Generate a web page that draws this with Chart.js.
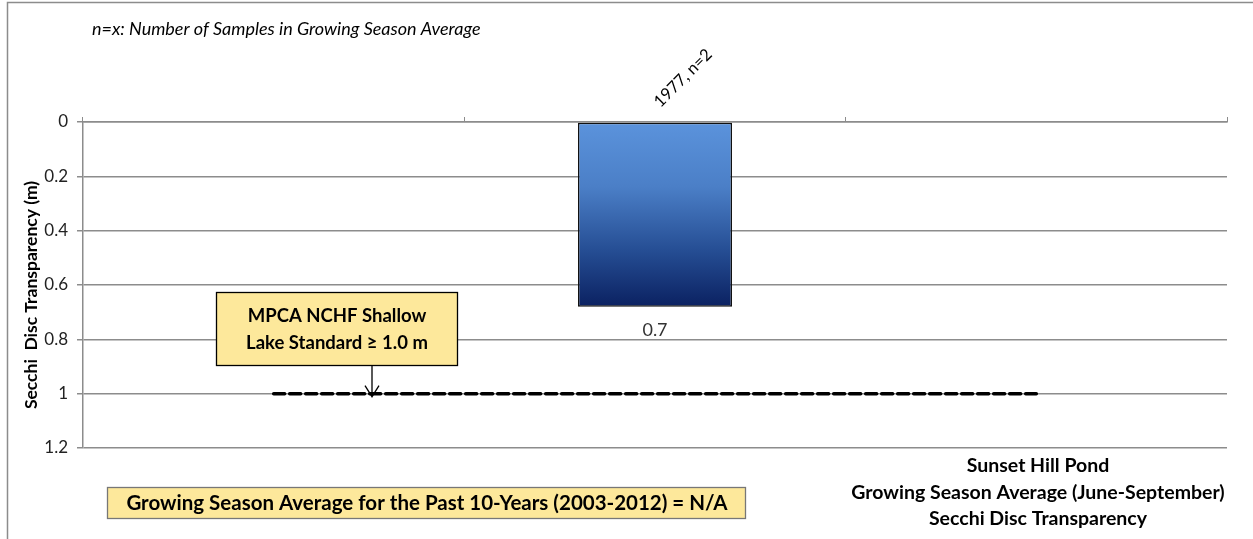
<!DOCTYPE html>
<html>
<head>
<meta charset="utf-8">
<script src="https://cdn.jsdelivr.net/npm/chart.js@4"></script>
<style>
  html, body { margin: 0; padding: 0; background: #fff; }
  #wrap { width: 1253px; height: 539px; position: relative; }
</style>
</head>
<body>
<div id="wrap"><canvas id="secchiChart" width="1253" height="539"></canvas></div>
<script>
// categories (only the middle one has data)
const years = ['', '1977', ''];
const sampleCounts = [null, 2, null];
const secchiValues = [null, 0.68, null];
const standardLine = [1.0, 1.0, 1.0];
const yTicks = [0, 0.2, 0.4, 0.6, 0.8, 1, 1.2];

const noteText = 'n=x: Number of Samples in Growing Season Average';
const standardText = ['MPCA NCHF Shallow', 'Lake Standard \u2265 1.0 m'];
const tenYearText = 'Growing Season Average for the Past 10-Years (2003-2012) = N/A';
const titleLines = ['Sunset Hill Pond', 'Growing Season Average (June-September)', 'Secchi Disc Transparency'];
const yTitle = 'Secchi  Disc Transparency (m)';

const FONT = 'Lato, "Open Sans", sans-serif';

function barGradient(context) {
    const chart = context.chart;
    const y = chart.scales.y;
    if (!y || !chart.chartArea) return '#4a7fc8';
    const v = context.raw;
    const top = y.getPixelForValue(0);
    const bot = y.getPixelForValue(v || 1);
    const g = chart.ctx.createLinearGradient(0, top, 0, bot);
    g.addColorStop(0, '#5b93dc');
    g.addColorStop(0.35, '#4b7fc7');
    g.addColorStop(0.7, '#254d93');
    g.addColorStop(1, '#0b2161');
    return g;
}

// draws text boxes, labels and the frame
const extrasPlugin = {
    id: 'extras',
    afterDatasetsDraw(chart) {
        const ctx = chart.ctx;
        const meta = chart.getDatasetMeta(0);
        ctx.save();

        // labels on the bar
        meta.data.forEach((bar, i) => {
            if (secchiValues[i] == null) return;
            ctx.fillStyle = '#333';
            ctx.font = '18px ' + FONT;
            ctx.textAlign = 'center';
            ctx.textBaseline = 'middle';
            ctx.fillText(secchiValues[i].toFixed(1), bar.x, bar.y + 23);

            ctx.save();
            ctx.translate(bar.x + 28, 78);
            ctx.rotate(-Math.PI / 4);
            ctx.fillStyle = '#000';
            ctx.font = '16.5px ' + FONT;
            ctx.fillText(years[i] + ', n=' + sampleCounts[i], 0, 0);
            ctx.restore();
        });

        // note
        ctx.fillStyle = '#000';
        ctx.font = 'italic 18px ' + FONT;
        ctx.textAlign = 'left';
        ctx.textBaseline = 'middle';
        ctx.fillText(noteText, 92, 29);

        // y title
        ctx.save();
        ctx.translate(31, 295);
        ctx.rotate(-Math.PI / 2);
        ctx.font = 'bold 17.5px ' + FONT;
        ctx.textAlign = 'center';
        ctx.fillText(yTitle, 0, 0);
        ctx.restore();

        // standard box + arrow
        ctx.fillStyle = '#fde89b';
        ctx.fillRect(216, 292, 241, 73);
        ctx.strokeStyle = '#000';
        ctx.lineWidth = 1.3;
        ctx.strokeRect(216.5, 292.5, 241, 73);
        ctx.fillStyle = '#000';
        ctx.font = 'bold 18.5px ' + FONT;
        ctx.textAlign = 'center';
        ctx.fillText(standardText[0], 337, 316);
        ctx.fillText(standardText[1], 337, 343);

        const ax = 372;
        const ay = chart.scales.y.getPixelForValue(1) + 3;
        ctx.beginPath();
        ctx.moveTo(ax, 366);
        ctx.lineTo(ax, ay);
        ctx.moveTo(ax - 7, ay - 11);
        ctx.lineTo(ax, ay);
        ctx.lineTo(ax + 7, ay - 11);
        ctx.stroke();

        // 10-year box
        ctx.fillStyle = '#fde89b';
        ctx.fillRect(107, 487, 638, 31);
        ctx.strokeStyle = '#777';
        ctx.strokeRect(107.5, 487.5, 638, 31);
        ctx.fillStyle = '#000';
        ctx.font = 'bold 20.5px ' + FONT;
        ctx.fillText(tenYearText, 427, 503);

        // title lines
        ctx.font = 'bold 19.5px ' + FONT;
        titleLines.forEach((t, i) => ctx.fillText(t, 1038, 466 + i * 26.5));

        // outer frame
        ctx.strokeStyle = '#8c8c8c';
        ctx.lineWidth = 1.5;
        ctx.strokeRect(7.5, 2.5, 1260, 560);
        ctx.restore();
    }
};

const ctx = document.getElementById('secchiChart').getContext('2d');

const secchiChart = new Chart(ctx, {
    data: {
        labels: years,
        datasets: [{
            type: 'bar',
            label: 'Secchi',
            data: secchiValues,
            backgroundColor: barGradient,
            borderColor: '#111',
            borderWidth: 1.5,
            borderSkipped: false,
            barPercentage: 0.404,
            categoryPercentage: 1,
            order: 2
        }, {
            type: 'line',
            label: 'Standard',
            data: standardLine,
            borderColor: '#000',
            borderWidth: 3.5,
            borderDash: [11, 5],
            borderCapStyle: 'round',
            pointRadius: 0,
            fill: false,
            order: 1
        }]
    },
    options: {
        responsive: false,
        animation: false,
        layout: { padding: { left: 0, right: 26, top: 0, bottom: 91 } },
        plugins: {
            legend: { display: false },
            tooltip: { enabled: false }
        },
        scales: {
            x: {
                position: 'top',
                offset: true,
                grid: {
                    offset: true,
                    drawOnChartArea: false,
                    tickLength: 5,
                    color: '#8c8c8c'
                },
                border: { color: '#8c8c8c', width: 1.5 },
                ticks: { display: false },
                afterFit: s => { s.height = 122; }
            },
            y: {
                reverse: true,
                min: 0,
                max: 1.2,
                afterBuildTicks: s => { s.ticks = yTicks.map(v => ({ value: v })); },
                ticks: {
                    color: '#222',
                    font: { family: FONT, size: 17 },
                    padding: 9,
                    callback: v => String(Math.round(v * 10) / 10)
                },
                grid: { color: '#8c8c8c', lineWidth: 1.5, tickLength: 6 },
                border: { color: '#8c8c8c', width: 1.5 },
                afterFit: s => { s.width = 83; }
            }
        }
    },
    plugins: [extrasPlugin]
});
</script>
</body>
</html>
